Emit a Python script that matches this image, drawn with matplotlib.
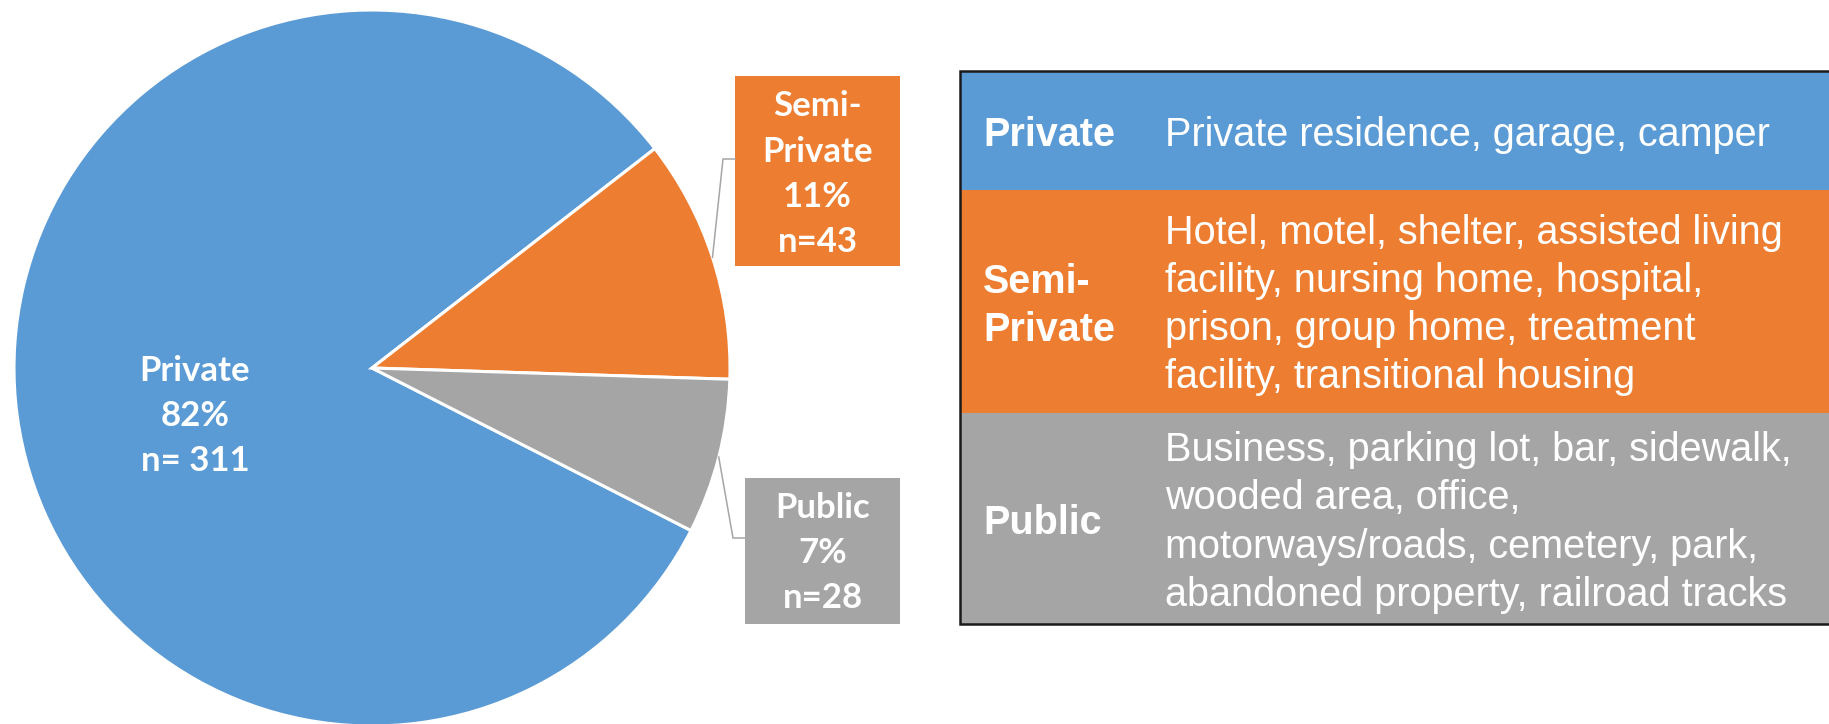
import matplotlib
matplotlib.use("Agg")
import matplotlib.pyplot as plt
from matplotlib.patches import Rectangle
import numpy as np

# ---------------- data ----------------
categories = ["Private", "Semi-Private", "Public"]
percents = [82, 11, 7]
counts = [311, 43, 28]
colors = ["#5B9BD5", "#ED7D31", "#A5A5A5"]

pie_label_lines = [
    ["Private", "82%", "n= 311"],
    ["Semi-", "Private", "11%", "n=43"],
    ["Public", "7%", "n=28"],
]

table_labels = [["Private"], ["Semi-", "Private"], ["Public"]]
table_desc = [
    ["Private residence, garage, camper"],
    ["Hotel, motel, shelter, assisted living",
     "facility, nursing home, hospital,",
     "prison, group home, treatment",
     "facility, transitional housing"],
    ["Business, parking lot, bar, sidewalk,",
     "wooded area, office,",
     "motorways/roads, cemetery, park,",
     "abandoned property, railroad tracks"],
]

# ---------------- figure ----------------
W, H = 1829, 724
fig = plt.figure(figsize=(W / 100, H / 100), dpi=100)
fig.patch.set_facecolor("white")

cx, cy, R = 372, 368, 358  # pie centre (px from top-left) and radius (px)
ax_pie = fig.add_axes([(cx - R) / W, (H - cy - R) / H, 2 * R / W, 2 * R / H])
wedges, _ = ax_pie.pie(percents, colors=colors, startangle=-27.0,
                       counterclock=False,
                       wedgeprops=dict(edgecolor="white", linewidth=2.2))
ax_pie.set_xlim(-1, 1)
ax_pie.set_ylim(-1, 1)
ax_pie.set_aspect("equal")
ax_pie.axis("off")

# overlay in pixel coordinates
ax = fig.add_axes([0, 0, 1, 1])
ax.set_xlim(0, W)
ax.set_ylim(H, 0)
ax.axis("off")
ax.patch.set_alpha(0)
ax.set_zorder(3)

label_font = dict(family=["Lato", "DejaVu Sans"], weight="bold",
                  color="white", fontsize=25)

def edge_point(w):
    mid = np.deg2rad((w.theta1 + w.theta2) / 2)
    return cx + R * np.cos(mid), cy - R * np.sin(mid)

# Private label (inside)
for k, s in enumerate(pie_label_lines[0]):
    ax.text(195, 381 + 45 * k, s, ha="center", va="baseline", **label_font)

# Semi-Private callout
bx, by, bw, bh = 735, 76, 165, 190
ax.add_patch(Rectangle((bx, by), bw, bh, facecolor=colors[1], edgecolor="none"))
ex, ey = edge_point(wedges[1])
ax.plot([ex, 723, bx], [ey, 159, 159], color="#A6A6A6", lw=1.1,
        solid_joinstyle="miter")
for k, s in enumerate(pie_label_lines[1]):
    ax.text(bx + bw / 2, 116 + 45.5 * k, s, ha="center", va="baseline",
            **label_font)

# Public callout
bx, by, bw, bh = 745, 478, 155, 146
ax.add_patch(Rectangle((bx, by), bw, bh, facecolor=colors[2], edgecolor="none"))
ex, ey = edge_point(wedges[2])
ax.plot([ex, 733, bx], [ey, 538, 538], color="#A6A6A6", lw=1.1,
        solid_joinstyle="miter")
for k, s in enumerate(pie_label_lines[2]):
    ax.text(bx + bw / 2, 518 + 45 * k, s, ha="center", va="baseline",
            **label_font)

# ---------------- table ----------------
tx0, tx1 = 960, W + 20
row_edges = [71, 190, 412.5, 624]
label_base = [[146], [293, 341], [533.5]]
desc_base = [[146], [244, 292, 340, 388], [461, 509, 557.5, 605.7]]
tfont = dict(family=["Liberation Sans", "DejaVu Sans"], color="white",
             fontsize=28.5)
for i in range(3):
    ax.add_patch(Rectangle((tx0, row_edges[i]), tx1 - tx0,
                           row_edges[i + 1] - row_edges[i],
                           facecolor=colors[i], edgecolor="none"))
    for s, y in zip(table_labels[i], label_base[i]):
        ax.text(983, y, s, ha="left", va="baseline", weight="bold", **tfont)
    for s, y in zip(table_desc[i], desc_base[i]):
        ax.text(1165, y, s, ha="left", va="baseline", **tfont)

ax.plot([tx1, tx0, tx0, tx1], [row_edges[0], row_edges[0], row_edges[-1],
        row_edges[-1]], color="#1a1a1a", lw=1.8, solid_joinstyle="miter")

fig.savefig("out.png", dpi=100)
